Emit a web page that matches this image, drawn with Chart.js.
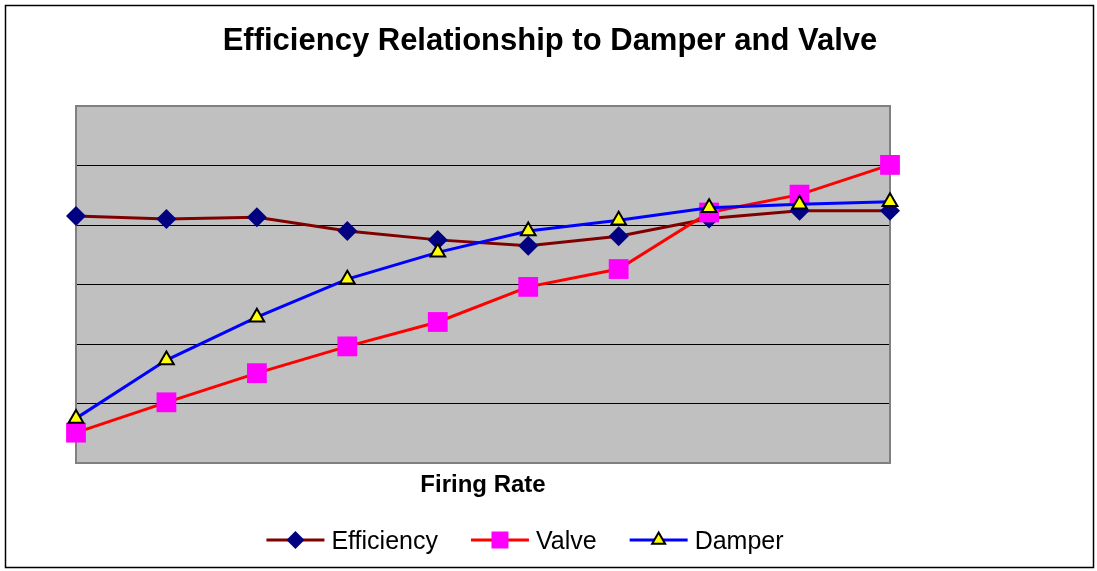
<!DOCTYPE html>
<html>
<head>
<meta charset="utf-8">
<script src="https://cdn.jsdelivr.net/npm/chart.js@4/dist/chart.umd.min.js"></script>
<style>
  html, body { margin: 0; padding: 0; background: #fff; }
  #wrap { position: relative; width: 1097px; height: 571px; }
</style>
</head>
<body>
<div id="wrap"><canvas id="chart" width="1097" height="571"></canvas></div>
<script>
// Firing rate steps (category labels are not printed on the chart)
const firingSteps = ['1', '2', '3', '4', '5', '6', '7', '8', '9', '10'];

// Values, in grid units (0 = bottom, 6 = top)
const efficiency = [4.15, 4.10, 4.13, 3.90, 3.75, 3.65, 3.81, 4.11, 4.24, 4.24];
const valve = [0.51, 1.02, 1.51, 1.96, 2.37, 2.96, 3.26, 4.21, 4.51, 5.01];
const damper = [0.75, 1.73, 2.45, 3.09, 3.54, 3.90, 4.08, 4.29, 4.35, 4.39];

const TITLE = 'Efficiency Relationship to Damper and Valve';
const FONT = '"Liberation Sans", Arial, sans-serif';

// Legend markers are a bit smaller than the ones on the plot
const LEGEND_RADIUS = [9, 12, 7.5];

// ---------- Plugins ----------
const frame = {
  id: 'frame',
  beforeDraw(chart) {
    const { ctx, chartArea: a } = chart;
    ctx.save();
    ctx.fillStyle = '#fff';
    ctx.fillRect(0, 0, chart.width, chart.height);
    // outer border
    ctx.strokeStyle = '#000';
    ctx.lineWidth = 1.5;
    ctx.strokeRect(5.5, 5.5, 1088, 562);
    // plot background
    ctx.fillStyle = '#c0c0c0';
    ctx.fillRect(a.left, a.top, a.right - a.left, a.bottom - a.top);
    ctx.restore();
  },
  beforeDatasetsDraw(chart) {
    const { ctx, chartArea: a } = chart;
    ctx.save();
    ctx.strokeStyle = '#808080';
    ctx.lineWidth = 2;
    ctx.strokeRect(a.left, a.top, a.right - a.left, a.bottom - a.top);
    ctx.restore();
  },
  afterDraw(chart, args, opts) {
    const { ctx } = chart;
    ctx.save();
    // title
    ctx.fillStyle = '#000';
    ctx.font = `bold 31px ${FONT}`;
    ctx.textAlign = 'center';
    ctx.textBaseline = 'middle';
    ctx.fillText(TITLE, opts.titleX, opts.titleY);

    // legend: line + marker, then label
    ctx.font = `25px ${FONT}`;
    ctx.textAlign = 'left';
    ctx.textBaseline = 'alphabetic';
    const sets = chart.data.datasets;
    const lineLen = 58, gap = 7, spacing = 33;
    const widths = sets.map((d) => ctx.measureText(d.label).width);
    const total = widths.reduce((s, w) => s + lineLen + gap + w, 0) + spacing * (sets.length - 1);
    let x = opts.legendX - total / 2;
    const y = opts.legendY;
    sets.forEach((d, i) => {
      ctx.strokeStyle = d.borderColor;
      ctx.lineWidth = 3;
      ctx.beginPath();
      ctx.moveTo(x, y);
      ctx.lineTo(x + lineLen, y);
      ctx.stroke();
      ctx.fillStyle = d.pointBackgroundColor;
      ctx.strokeStyle = d.pointBorderColor;
      ctx.lineWidth = d.pointBorderWidth;
      Chart.helpers.drawPoint(ctx, {
        pointStyle: d.pointStyle,
        radius: LEGEND_RADIUS[i],
        borderWidth: d.pointBorderWidth,
        rotation: 0,
      }, x + lineLen / 2, y);
      ctx.fillStyle = '#000';
      ctx.fillText(d.label, x + lineLen + gap, y + 9);
      x += lineLen + gap + widths[i] + spacing;
    });
    ctx.restore();
  },
};

// ---------- Chart ----------
new Chart(document.getElementById('chart'), {
  type: 'line',
  data: {
    labels: firingSteps,
    datasets: [
      {
        label: 'Efficiency',
        data: efficiency,
        borderColor: '#800000',
        borderWidth: 3,
        pointStyle: 'rectRot',
        pointRadius: 10,
        pointBackgroundColor: '#000080',
        pointBorderColor: '#000080',
        pointBorderWidth: 0,
        tension: 0,
        clip: false,
        order: 2,
      },
      {
        label: 'Valve',
        data: valve,
        borderColor: '#ff0000',
        borderWidth: 3,
        pointStyle: 'rect',
        pointRadius: 14,
        pointBackgroundColor: '#ff00ff',
        pointBorderColor: '#ff00ff',
        pointBorderWidth: 0,
        tension: 0,
        clip: false,
        order: 1,
      },
      {
        label: 'Damper',
        data: damper,
        borderColor: '#0000ff',
        borderWidth: 3,
        pointStyle: 'triangle',
        pointRadius: 8.5,
        pointBackgroundColor: '#ffff00',
        pointBorderColor: '#000',
        pointBorderWidth: 2,
        tension: 0,
        clip: false,
        order: 0,
      },
    ],
  },
  options: {
    responsive: false,
    animation: false,
    events: [],
    layout: {
      autoPadding: false,
      padding: { left: 76, right: 207, top: 106, bottom: 71.6 },
    },
    plugins: {
      legend: { display: false },
      title: { display: false },
      tooltip: { enabled: false },
      frame: { titleX: 550, titleY: 41, legendX: 525, legendY: 540 },
    },
    scales: {
      x: {
        offset: false,
        ticks: { display: false },
        grid: { display: false, drawTicks: false },
        border: { display: false },
        title: {
          display: true,
          text: 'Firing Rate',
          color: '#000',
          font: { family: FONT, size: 24, weight: 'bold', lineHeight: 1.2 },
          padding: { top: 7.6, bottom: 0 },
        },
      },
      y: {
        min: 0,
        max: 6,
        ticks: { display: false, stepSize: 1 },
        grid: { color: '#000', lineWidth: 1, drawTicks: false },
        border: { display: false },
      },
    },
  },
  plugins: [frame],
});
</script>
</body>
</html>
